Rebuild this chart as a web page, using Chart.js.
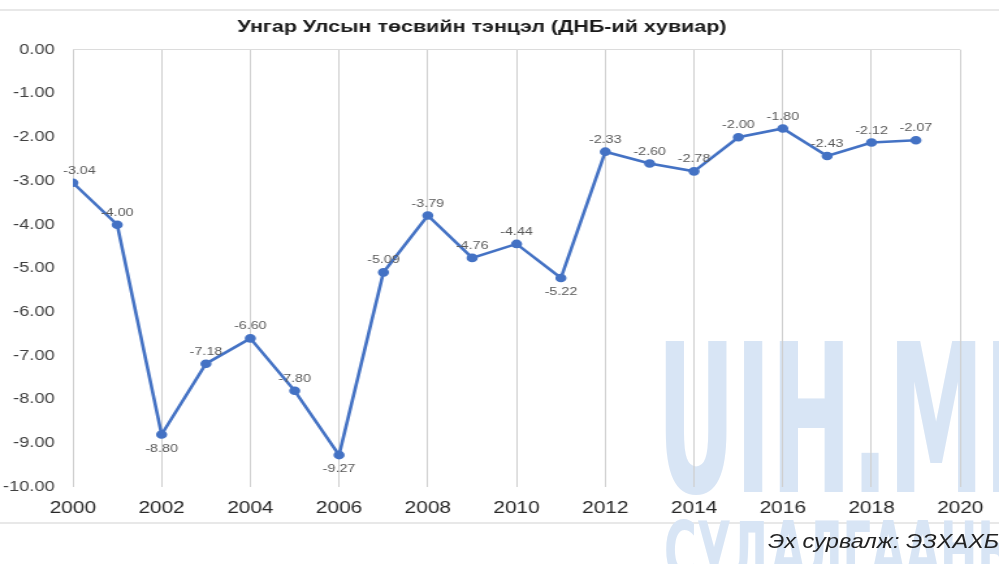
<!DOCTYPE html>
<html>
<head>
<meta charset="utf-8">
<script src="https://cdn.jsdelivr.net/npm/chart.js@4.4.1/dist/chart.umd.min.js"></script>
<style>
  html, body { margin: 0; padding: 0; background: #fff; overflow: hidden; }
  body { width: 999px; height: 564px; position: relative; }
  .frame-top { position: absolute; left: 0; top: 9px; width: 999px; height: 2px; background: #e8e8e8; }
  .frame-bottom { position: absolute; left: 0; top: 522px; width: 999px; height: 2px; background: #e8e8e8; }
  .mark { position: absolute; color: rgb(216, 229, 245); font-family: "Liberation Sans Narrow", "DejaVu Sans Condensed", "Liberation Sans", sans-serif; font-weight: bold; white-space: nowrap; transform-origin: 0 0; z-index: 0; }
  .mark1 { left: 657px; top: 318px; font-size: 206px; line-height: 206px; transform: scaleX(0.52); }
  .mark2 { left: 664px; top: 512px; font-size: 80px; line-height: 80px; transform: scaleX(0.62); }
  .wrap { position: absolute; left: 0; top: 0; width: 768px; height: 564px; transform: scaleX(1.3008); transform-origin: 0 0; z-index: 1; }
  .source { position: absolute; left: 768px; top: 529px; font: italic 21px "Liberation Sans", Arial, sans-serif; color: #222; white-space: nowrap; z-index: 2; transform: scaleX(1.12); transform-origin: 0 0; }
</style>
</head>
<body>
<div class="frame-top"></div>
<div class="frame-bottom"></div>
<div class="mark mark1">UIH.MN</div>
<div class="mark mark2">СУДАЛГААНЫ</div>
<div class="wrap"><canvas id="myChart"></canvas></div>
<div class="source">Эх сурвалж: ЭЗХАХБ</div>

<script>
// data
const years = [2000, 2001, 2002, 2003, 2004, 2005, 2006, 2007, 2008, 2009,
  2010, 2011, 2012, 2013, 2014, 2015, 2016, 2017, 2018, 2019];
const balance = [-3.04, -4.00, -8.80, -7.18, -6.60, -7.80, -9.27, -5.09, -3.79, -4.76,
  -4.44, -5.22, -2.33, -2.60, -2.78, -2.00, -1.80, -2.43, -2.12, -2.07];
const labelsBelow = [2002, 2006, 2011];
const titleText = 'Унгар Улсын төсвийн тэнцэл (ДНБ-ий хувиар)';

const blue = '#4472C4';

// value labels next to each point
const pointLabels = {
  id: 'pointLabels',
  afterDatasetsDraw(chart) {
    const ctx = chart.ctx;
    const meta = chart.getDatasetMeta(0);
    ctx.save();
    ctx.font = '11px "Liberation Sans", Arial, sans-serif';
    ctx.fillStyle = '#595959';
    ctx.textAlign = 'center';
    ctx.textBaseline = 'middle';
    meta.data.forEach((pt, i) => {
      const below = labelsBelow.includes(years[i]);
      let x = pt.x;
      if (i === 0) x += 5;
      const y = below ? pt.y + 14 : pt.y - 12;
      ctx.fillText(balance[i].toFixed(2), x, y);
    });
    ctx.restore();
  }
};

const ctx = document.getElementById('myChart');

new Chart(ctx, {
  type: 'line',
  data: {
    datasets: [{
      data: years.map((y, i) => ({ x: y, y: balance[i] })),
      borderColor: blue,
      backgroundColor: blue,
      borderWidth: 2.6,
      pointRadius: 3,
      pointHoverRadius: 3,
      tension: 0
    }]
  },
  options: {
    responsive: true,
    maintainAspectRatio: false,
    animation: false,
    layout: {
      padding: { left: 0, right: 27, top: 0, bottom: 0 }
    },
    plugins: {
      legend: { display: false },
      tooltip: { enabled: false },
      title: {
        display: true,
        text: titleText,
        color: '#1a1a1a',
        font: { family: '"Liberation Sans", Arial, sans-serif', size: 16.5, weight: 'bold' },
        padding: { top: 18, bottom: 12 }
      }
    },
    scales: {
      x: {
        type: 'linear',
        min: 2000,
        max: 2020,
        afterFit: function (scale) { scale.height = 77; },
        ticks: {
          stepSize: 2,
          padding: 12,
          color: '#262626',
          font: { family: '"Liberation Sans", Arial, sans-serif', size: 16 },
          callback: function (v) { return String(v); }
        },
        grid: { color: '#cfcfcf', lineWidth: 1, drawTicks: false },
        border: { display: false }
      },
      y: {
        min: -10,
        max: 0,
        afterFit: function (scale) { scale.width = 56; },
        ticks: {
          stepSize: 1,
          padding: 14,
          color: '#404040',
          font: { family: '"Liberation Sans", Arial, sans-serif', size: 14 },
          callback: function (v) { return v.toFixed(2); }
        },
        grid: {
          drawTicks: false,
          color: function (c) { return c.tick && c.tick.value === 0 ? '#dcdcdc' : 'rgba(0,0,0,0)'; }
        },
        border: { display: false }
      }
    }
  },
  plugins: [pointLabels]
});
</script>
</body>
</html>
